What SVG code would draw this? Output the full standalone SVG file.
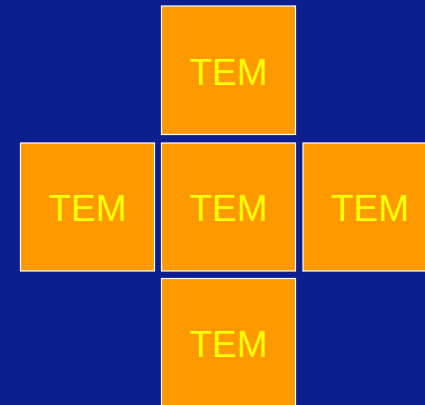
<svg xmlns="http://www.w3.org/2000/svg" width="425" height="405" viewBox="0 0 425 405">
<style>
.box{fill:#ff9900;stroke:#ffffff;stroke-width:1.2}
.lbl{font-family:"Liberation Sans",Arial,sans-serif;font-size:37px;fill:#ffff00;text-anchor:middle}
</style>
<rect x="0" y="0" width="425" height="405" fill="#0d1f8f"/>
<g id="top"><rect class="box" x="161.5" y="6" width="134" height="128.5"/><text class="lbl" x="228.5" y="84.5">TEM</text></g>
<g id="left"><rect class="box" x="20.5" y="143" width="134" height="128"/><text class="lbl" x="87.5" y="221">TEM</text></g>
<g id="center"><rect class="box" x="161.5" y="143" width="134" height="128"/><text class="lbl" x="228.5" y="221">TEM</text></g>
<g id="right"><rect class="box" x="303" y="143" width="134" height="128"/><text class="lbl" x="370" y="221">TEM</text></g>
<g id="bottom"><rect class="box" x="161.5" y="278.5" width="134" height="128.5"/><text class="lbl" x="228.5" y="357">TEM</text></g>
<g id="connectors"/>
</svg>
